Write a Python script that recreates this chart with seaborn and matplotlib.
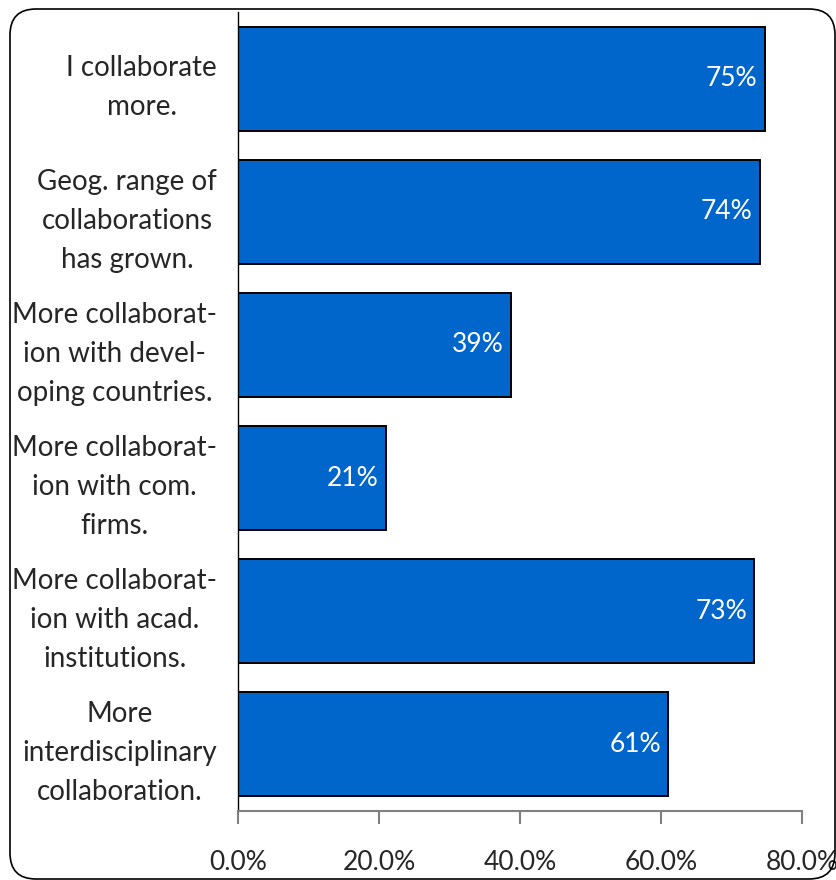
import matplotlib
matplotlib.use("Agg")
import matplotlib.pyplot as plt
from matplotlib.patches import FancyBboxPatch
from matplotlib.transforms import IdentityTransform
from matplotlib.ticker import PercentFormatter
import pandas as pd
import seaborn as sns

# Survey responses: share agreeing with each statement
statements = [
    "I collaborate\nmore.",
    "Geog. range of\ncollaborations\nhas grown.",
    "More collaborat-\nion with devel-\noping countries.",
    "More collaborat-\nion with com.\nfirms.",
    "More collaborat-\nion with acad.\ninstitutions.",
    "More\ninterdisciplinary\ncollaboration.",
]
shares = [74.7, 74.0, 38.7, 21.0, 73.2, 61.0]
value_labels = ["75%", "74%", "39%", "21%", "73%", "61%"]

df = pd.DataFrame({"statement": statements, "share": shares})

sns.set_style("white")
plt.rcParams["font.family"] = ["Lato", "DejaVu Sans"]

fig = plt.figure(figsize=(8.36, 8.8), dpi=100)
ax = fig.add_axes([238 / 836, 1 - 811 / 880, 564 / 836, 799 / 880])

sns.barplot(data=df, x="share", y="statement", orient="h", color="#0066CC",
            saturation=1, edgecolor="black", linewidth=1.4, width=0.78, ax=ax)

for patch, txt in zip(ax.patches, value_labels):
    ax.text(patch.get_width() - 1.0, patch.get_y() + patch.get_height() / 2, txt,
            ha="right", va="center", color="white", fontsize=19)

ax.set_xlim(0, 80)
ax.set_ylim(5.5, -0.5)
ax.set_xticks([0, 20, 40, 60, 80])
ax.xaxis.set_major_formatter(PercentFormatter(decimals=1))
ax.set_xlabel("")
ax.set_ylabel("")

for side in ["top", "right"]:
    ax.spines[side].set_visible(False)
ax.spines["left"].set_color("black")
ax.spines["left"].set_linewidth(1.0)
ax.spines["bottom"].set_color("#808080")
ax.spines["bottom"].set_linewidth(1.5)

ax.tick_params(axis="x", direction="out", length=9, width=1.5, color="#808080",
               labelsize=19, pad=19, bottom=True)
ax.tick_params(axis="y", length=0, labelsize=20, pad=15)
for lbl in ax.get_yticklabels():
    lbl.set_multialignment("center")
    lbl.set_linespacing(1.62)

# rounded chart-area border
border = FancyBboxPatch((10, 1), 825, 870, boxstyle="round,pad=0,rounding_size=26",
                        transform=IdentityTransform(), facecolor="none",
                        edgecolor="black", linewidth=1.2, figure=fig)
fig.patches.append(border)

fig.savefig("out.png", dpi=100)
plt.close(fig)
